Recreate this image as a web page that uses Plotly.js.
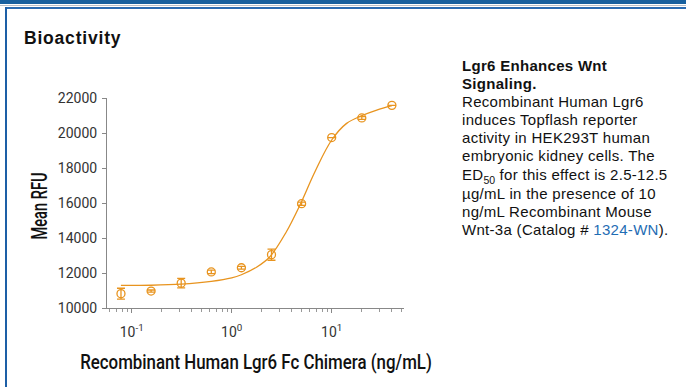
<!DOCTYPE html>
<html>
<head>
<meta charset="utf-8">
<script src="https://cdn.plot.ly/plotly-3.0.1.min.js"></script>
<style>
  html, body { margin:0; padding:0; width:686px; height:387px; overflow:hidden; background:#fff; }
  #wrap { position:relative; width:686px; height:387px; }
  #chart { position:absolute; left:0; top:0; width:686px; height:387px; }
  .bar1 { position:absolute; left:0; top:0; width:686px; height:4px; background:#17609f; }
  .bar2 { position:absolute; left:0; top:5px; width:686px; height:1px; background:#b9c0c8; }
  .bar3 { position:absolute; left:5px; top:7px; width:681px; height:2px; background:#2b6cb3; }
  .vline { position:absolute; left:5px; top:7px; width:2px; height:380px; background:#1d5fa6; }
  .head { position:absolute; left:24px; top:28px; font:bold 17.5px "Liberation Sans", Arial, sans-serif; letter-spacing:0.8px; color:#111; }
  .panel { position:absolute; left:462px; top:57px; width:224px; font:15px "Liberation Sans", Arial, sans-serif; letter-spacing:0.3px; color:#111; white-space:nowrap; }
  .panel div { height:18.1px; line-height:18.1px; }
  .panel div.ed { height:19.5px; }
  .panel b { font-weight:bold; }
  .panel sub { font-size:10.5px; line-height:0; vertical-align:-4px; letter-spacing:0; }
  .panel a { color:#1f6db4; text-decoration:none; }
</style>
</head>
<body>
<div id="wrap">
  <div id="chart"></div>
  <div class="bar1"></div><div class="bar2"></div><div class="bar3"></div><div class="vline"></div>
  <div class="head">Bioactivity</div>
  <div class="panel">
    <div><b>Lgr6 Enhances Wnt</b></div>
    <div><b>Signaling.</b></div>
    <div>Recombinant Human Lgr6</div>
    <div>induces Topflash reporter</div>
    <div>activity in HEK293T human</div>
    <div>embryonic kidney cells. The</div>
    <div class="ed">ED<sub>50</sub> for this effect is 2.5-12.5</div>
    <div>µg/mL in the presence of 10</div>
    <div>ng/mL Recombinant Mouse</div>
    <div>Wnt-3a (Catalog # <a>1324-WN</a>).</div>
  </div>
</div>
<script>
// Measured data (ng/mL vs Mean RFU)
var doses   = [0.078125, 0.15625, 0.3125, 0.625, 1.25, 2.5, 5, 10, 20, 40];
var meanRFU = [10820, 10970, 11420, 12060, 12300, 13050, 15960, 19740, 20860, 21580];
var errRFU  = [310, 60, 270, 100, 80, 320, 90, 0, 80, 0];

// Fitted curve
var fitX = [0.078, 0.156, 0.3125, 0.625, 1.0, 1.25, 1.77, 2.41, 3.5, 4.82, 6.8, 10, 14.1, 20, 28.2, 40];
var fitY = [11290, 11300, 11360, 11520, 11720, 11900, 12330, 12930, 14330, 15890, 17790, 19600, 20550, 20990, 21310, 21560];

var xTickVals = [0.1, 1, 10];
var xTickText = ['10<sup>-1</sup>', '10<sup>0</sup>', '10<sup>1</sup>'];
var yTickVals = [10000, 12000, 14000, 16000, 18000, 20000, 22000];

var orange = '#e8941f';
var tickFam = 'Roboto, "Liberation Sans", sans-serif';
var titleFam = 'Roboto, "Liberation Sans", sans-serif';

var traces = [
  { x: fitX, y: fitY, type: 'scatter', mode: 'lines',
    line: { color: orange, width: 1.3, shape: 'spline', smoothing: 1 }, hoverinfo: 'skip' },
  { x: doses, y: meanRFU, type: 'scatter', mode: 'markers',
    marker: { symbol: 'circle-open', size: 8, color: orange, line: { width: 1.3, color: orange } },
    error_y: { type: 'data', array: errRFU, visible: true, color: orange, thickness: 1.3, width: 4 } }
];

var layout = {
  width: 686, height: 387,
  margin: { l: 107, r: 282, t: 98, b: 79 },
  paper_bgcolor: 'rgba(0,0,0,0)', plot_bgcolor: 'rgba(0,0,0,0)',
  showlegend: false,
  xaxis: {
    type: 'log', range: [-1.247, 1.723],
    tickmode: 'array', tickvals: xTickVals, ticktext: xTickText,
    ticks: 'outside', ticklen: 4, tickwidth: 1, tickcolor: '#888',
    ticklabelstandoff: 7,
    minor: { ticks: 'outside', ticklen: 2.5, tickwidth: 1, tickcolor: '#999', dtick: 'D1' },
    showline: true, linecolor: '#888', linewidth: 1, showgrid: false, zeroline: false,
    tickfont: { family: tickFam, size: 14, color: '#333' },
    title: { text: 'Recombinant Human Lgr6 Fc Chimera (ng/mL)', standoff: 14,
             font: { family: titleFam, size: 21, weight: 500, color: '#111' } }
  },
  yaxis: {
    range: [10000, 22000],
    tickmode: 'array', tickvals: yTickVals, tickformat: 'd',
    ticks: 'outside', ticklen: 4, tickwidth: 1, tickcolor: '#888',
    ticklabelstandoff: 2,
    showline: true, linecolor: '#888', linewidth: 1, showgrid: false, zeroline: false,
    tickfont: { family: tickFam, size: 14, color: '#333' },
    title: { text: 'Mean RFU', standoff: 10, font: { family: titleFam, size: 22, weight: 500, color: '#111' } }
  }
};

// Condense the axis titles to match the narrow typeface of the original
function fitTitle(sel, cx, cy, targetLen, rotated) {
  var el = document.querySelector(sel);
  if (!el) return;
  el.removeAttribute('transform');
  var b = el.getBBox();
  var s = targetLen / b.width;
  var bx = b.x + b.width / 2, by = b.y + b.height / 2;
  var t = 'translate(' + cx + ',' + cy + ')' + (rotated ? ' rotate(-90)' : '') +
          ' scale(' + s + ',1) translate(' + (-bx) + ',' + (-by) + ')';
  el.setAttribute('transform', t);
}

Plotly.newPlot('chart', traces, layout, { displayModeBar: false, staticPlot: true }).then(function () {
  fitTitle('.xtitle', 256, 362, 352, false);
  fitTitle('.ytitle', 40, 206, 67, true);
});
</script>
</body>
</html>
